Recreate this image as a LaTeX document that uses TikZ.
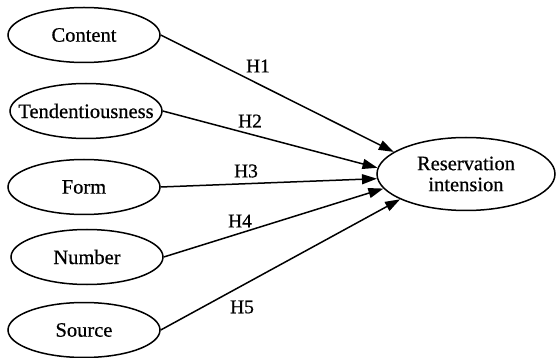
\documentclass[tikz,border=0pt]{standalone}
\usepackage{fontspec}
\setmainfont{Liberation Serif}[FakeBold=0.6]
\usetikzlibrary{arrows.meta,shapes.geometric}
\begin{document}
\begin{tikzpicture}[x=1pt,y=-1pt,
  var/.style={ellipse,draw,line width=1.5pt,minimum width=152pt,minimum height=55pt,inner sep=0pt,font=\fontsize{20.5}{22}\selectfont},
  big/.style={ellipse,draw,line width=1.5pt,minimum width=178pt,minimum height=73pt,inner sep=0pt,align=center,font=\fontsize{20.5}{21}\selectfont},
  path/.style={line width=1.5pt,-{Triangle[length=15pt,width=10pt]}},
  hlab/.style={font=\fontsize{19.5}{21}\selectfont,inner sep=0pt}]
\useasboundingbox (0,0) rectangle (557,358);
\node[var] (c) at (84,35) {\makebox[0pt]{Content}};
\node[var] (t) at (86,111) {\makebox[0pt]{Tendentiousness}};
\node[var] (f) at (84,187) {\makebox[0pt]{Form}};
\node[var] (n) at (87,257) {\makebox[0pt]{Number}};
\node[var] (s) at (84,330) {\makebox[0pt]{Source}};
\node[big] (r) at (466,174) {Reservation\\intension};
\draw[path] (c.east) -- (r.163);
\draw[path] (t.east) -- (r.176);
\draw[path] (f.east) -- (r.183);
\draw[path] (n.east) -- (r.190);
\draw[path] (s.east) -- (r.201);
\node[hlab] (h1) at (258,66) {H1};
\node[hlab] (h2) at (250,121) {H2};
\node[hlab] (h3) at (246,171) {H3};
\node[hlab] (h4) at (240,221) {H4};
\node[hlab] (h5) at (242,307) {H5};
\end{tikzpicture}
\end{document}
